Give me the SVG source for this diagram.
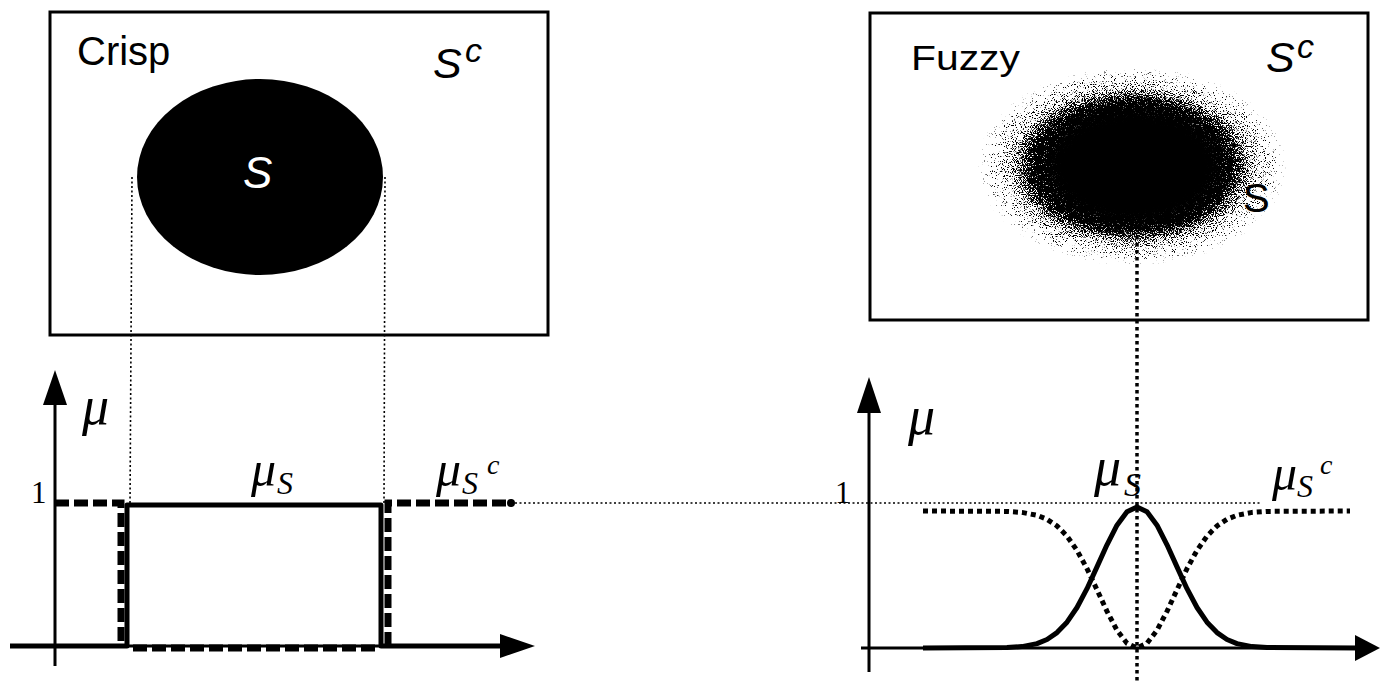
<svg xmlns="http://www.w3.org/2000/svg" width="1381" height="687" viewBox="0 0 1381 687">
<style>
.box{fill:#fff;stroke:#000;stroke-width:3}
.sans{font-family:"Liberation Sans",Arial,sans-serif}
.serif{font-family:"Liberation Serif","Times New Roman",serif;font-style:italic}
.num{font-family:"Liberation Serif","Times New Roman",serif;font-style:normal}
.axis{stroke:#000;stroke-width:3;fill:none}
.thin{stroke:#000;stroke-width:1.6;stroke-dasharray:2 2.5;fill:none}
.solid{stroke:#000;stroke-width:5;fill:none;stroke-linejoin:round}
.dash{stroke:#000;stroke-width:7;stroke-dasharray:14 5;fill:none}
.dots{stroke:#000;stroke-width:5;stroke-dasharray:5 4;fill:none}
</style>
<defs>
<radialGradient id="blobg" cx="0.5" cy="0.5" r="0.5">
<stop offset="0" stop-color="#000" stop-opacity="1"/>
<stop offset="0.62" stop-color="#000" stop-opacity="1"/>
<stop offset="0.78" stop-color="#000" stop-opacity="0.4"/>
<stop offset="1" stop-color="#000" stop-opacity="0"/>
</radialGradient>
<filter id="grain" x="-10%" y="-10%" width="120%" height="120%" color-interpolation-filters="sRGB">
<feTurbulence type="fractalNoise" baseFrequency="0.9" numOctaves="2" seed="7" result="n"/>
<feColorMatrix in="n" type="matrix" values="0 0 0 0 0  0 0 0 0 0  0 0 0 0 0  2.2 0 0 0 -0.6" result="na"/>
<feComposite in="SourceAlpha" in2="na" operator="arithmetic" k1="0" k2="1" k3="-1" k4="0" result="d"/>
<feComponentTransfer in="d"><feFuncA type="linear" slope="6" intercept="0"/></feComponentTransfer>
</filter>
<filter id="soft" x="-20%" y="-20%" width="140%" height="140%">
<feGaussianBlur stdDeviation="7"/>
</filter>
</defs>
<rect width="1381" height="687" fill="#fff"/>

<g id="crisp-box">
<rect class="box" x="50" y="12" width="498" height="323"/>
<text class="sans" x="77" y="65" font-size="40">Crisp</text>
<text class="sans" x="433" y="78" font-size="43" font-style="italic">S</text>
<text class="sans" x="465" y="62" font-size="34" font-style="italic">c</text>
<ellipse cx="260" cy="177" rx="123" ry="98" fill="#000"/>
<text class="sans" x="243" y="188" font-size="44" font-style="italic" fill="#fff">S</text>
</g>

<g id="fuzzy-box">
<rect class="box" x="870" y="13" width="498" height="307"/>
<text class="sans" x="911" y="70" font-size="35" textLength="109" lengthAdjust="spacingAndGlyphs">Fuzzy</text>
<text class="sans" x="1266" y="72" font-size="43" font-style="italic">S</text>
<text class="sans" x="1297" y="58" font-size="34" font-style="italic">c</text>
<ellipse cx="1132" cy="166" rx="155" ry="100" fill="url(#blobg)" filter="url(#grain)"/>
<ellipse cx="1134" cy="166" rx="88" ry="60" fill="#000" filter="url(#soft)"/>
<text class="sans" x="1243" y="212" font-size="40">S</text>
</g>

<g id="crisp-chart">
<line class="axis" x1="55" y1="400" x2="55" y2="666"/>
<polygon points="55,370 43,405 67,405" fill="#000"/>
<line class="axis" x1="10" y1="646" x2="505" y2="646"/>
<polygon points="535,646 500,634 500,658" fill="#000"/>
<text class="serif" x="82" y="424" font-size="54">μ</text>
<text class="num" x="31" y="503" font-size="31">1</text>
<text class="serif" x="251" y="486" font-size="50">μ</text>
<text class="serif" x="277" y="494" font-size="32">S</text>
<text class="serif" x="436" y="486" font-size="50">μ</text>
<text class="serif" x="462" y="494" font-size="32">S</text>
<text class="serif" x="487" y="474" font-size="28">c</text>
</g>

<g id="fuzzy-chart">
<line class="axis" x1="869" y1="405" x2="869" y2="672"/>
<polygon points="869,377 857,413 881,413" fill="#000"/>
<line class="axis" x1="861" y1="648" x2="1360" y2="648"/>
<polygon points="1380,648 1355,635 1355,661" fill="#000"/>
<text class="serif" x="908" y="434" font-size="54">μ</text>
<text class="num" x="835" y="503" font-size="31">1</text>
<text class="serif" x="1094" y="485" font-size="54">μ</text>
<text class="serif" x="1124" y="496" font-size="34">S</text>
<text class="serif" x="1272" y="490" font-size="50">μ</text>
<text class="serif" x="1297" y="497" font-size="32">S</text>
<text class="serif" x="1320" y="474" font-size="28">c</text>
</g>

<g id="connectors">
<line class="thin" x1="132" y1="177" x2="130" y2="505"/>
<line class="thin" x1="385" y1="177" x2="384" y2="505"/>
<line class="thin" x1="515" y1="503" x2="1260" y2="503"/>
<polyline class="solid" points="10,646 127,646 127,505 381,505 381,646 505,646"/>
<polyline class="dash" points="55,503 121,503 121,646"/>
<line class="dash" stroke-width="8" x1="133" y1="648" x2="378" y2="648"/>
<polyline class="dash" points="388,646 388,503 512,503"/>
<circle cx="511" cy="503" r="4" fill="#000"/>
<line x1="1137" y1="236" x2="1137" y2="684" stroke="#000" stroke-width="3.5" stroke-dasharray="3.5 3.5"/>
<polyline class="solid" stroke-width="4.5" points="923,648 1007,647.6 1022,646.6 1037,643.6 1047,639.5 1057,632.6 1067,622.2 1077,607.5 1087,588.7 1097,566.9 1107,544.8 1117,525.2 1127,511.8 1137,507 1147,511.8 1157,525.2 1167,544.8 1177,566.9 1187,588.7 1197,607.5 1207,622.2 1217,632.6 1227,639.5 1237,643.6 1252,646.6 1267,647.6 1360,648"/>
<polyline class="dots" points="923,511 1007,511.4 1022,512.4 1037,515.3 1047,519.3 1057,525.9 1067,536.1 1077,550.4 1087,568.6 1097,589.8 1107,611.3 1117,630.3 1127,643.3 1137,648 1147,643.3 1157,630.3 1167,611.3 1177,589.8 1187,568.6 1197,550.4 1207,536.1 1217,525.9 1227,519.3 1237,515.3 1252,512.4 1267,511.4 1350,511"/>
</g>
</svg>
